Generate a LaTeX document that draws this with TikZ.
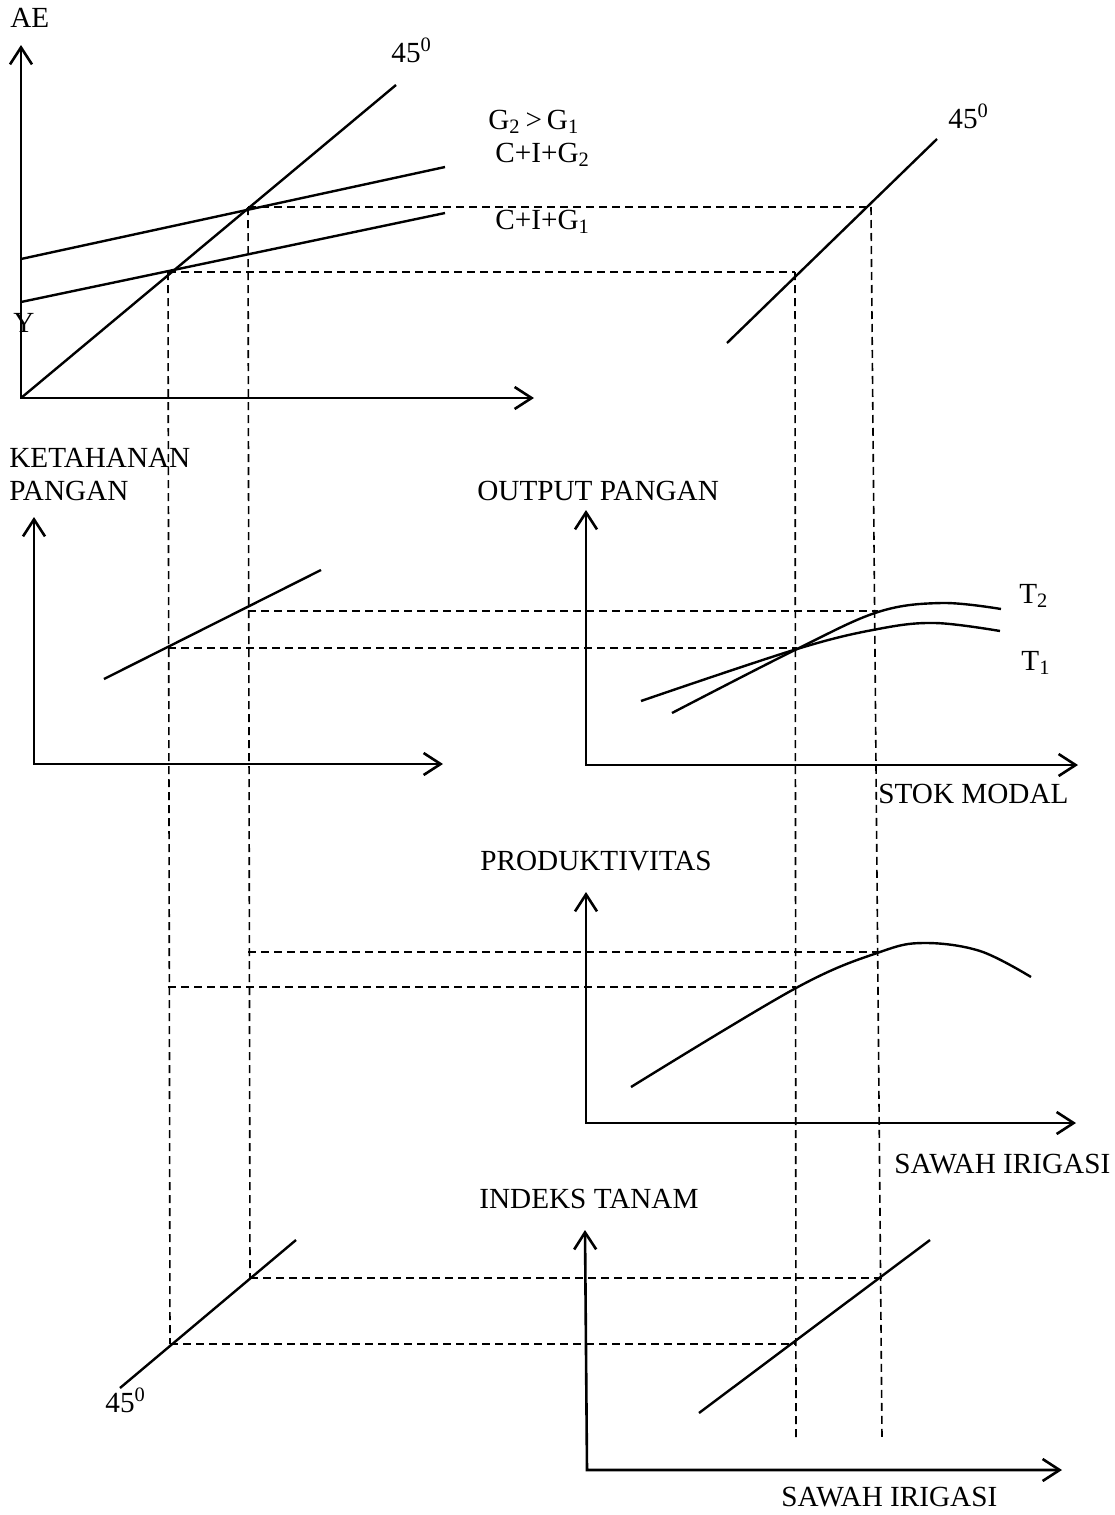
\documentclass[tikz,border=0pt]{standalone}
\usepackage{fontspec}
\setmainfont{Liberation Serif}
\usepackage{tikz}
\usetikzlibrary{arrows.meta}
\usetikzlibrary{positioning}
\tikzset{>={Straight Barb[length=8.5pt,width=11pt]}}
\tikzset{axis/.style = {line width=1.3pt, <->}}
\tikzset{curve/.style = {line width=1.2pt}}
\tikzset{guide/.style = {line width=0.8pt, dash pattern=on 4pt off 2.5pt}}
\tikzset{lbl/.style = {anchor=base west, inner sep=0pt,
                       font=\fontsize{14.6}{17}\selectfont}}

\begin{document}
\begin{tikzpicture}[x=0.5pt, y=-0.5pt]
    \useasboundingbox (0, 0) rectangle (1114, 1515);

    % AE panel
    \draw [axis] (21, 45) -- (21, 398) -- (534, 398);
    \draw [curve] (21, 398) -- (396, 85);
    \draw [curve] (21, 259) -- (445, 167);
    \draw [curve] (21, 302) -- (445, 213);
    \draw [curve] (727, 343) -- (937, 139);
    \node (ae) [lbl] at (10, 27) {AE};
    \node (y) [lbl] at (13, 332) {Y};
    \node (degA) [lbl] at (391, 62) {45\textsuperscript{0}};
    \node (degB) [lbl] at (948, 128) {45\textsuperscript{0}};
    \node (gg) [lbl] at (488, 129) {G\textsubscript{2}\,>\,G\textsubscript{1}};
    \node (cig2) [lbl] at (495, 162) {C+I+G\textsubscript{2}};
    \node (cig1) [lbl] at (495, 229) {C+I+G\textsubscript{1}};

    % ketahanan pangan
    \draw [axis] (34, 517) -- (34, 764) -- (443, 764);
    \draw [curve] (104, 679) -- (321, 570);
    \node (keta) [lbl] at (9, 467) {KETAHANAN};
    \node (pang) [lbl] at (9, 500) {PANGAN};

    % output pangan
    \draw [axis] (586, 510) -- (586, 765) -- (1078, 765);
    \draw [curve] plot [smooth, tension=0.6] coordinates
      {(641, 701) (797, 649) (878, 629) (935, 623) (1000, 631)};
    \draw [curve] plot [smooth, tension=0.6] coordinates
      {(672, 713) (797, 649) (878, 612) (942, 603) (1001, 609)};
    \node (outp) [lbl] at (477, 500) {OUTPUT PANGAN};
    \node (tb) [lbl] at (1019, 603) {T\textsubscript{2}};
    \node (ta) [lbl] at (1021, 670) {T\textsubscript{1}};
    \node (stok) [lbl] at (878, 803) {STOK MODAL};

    % produktivitas
    \draw [axis] (586, 892) -- (586, 1123) -- (1076, 1123);
    \draw [curve] plot [smooth, tension=0.6] coordinates
      {(631, 1087) (796, 988) (880, 952) (924, 943) (980, 951) (1031, 977)};
    \node (prod) [lbl] at (480, 870) {PRODUKTIVITAS};
    \node (sawA) [lbl] at (894, 1173) {SAWAH IRIGASI};

    % indeks tanam
    \draw [axis] (585, 1230) -- (587, 1470) -- (1062, 1470);
    \draw [curve] (699, 1413) -- (930, 1240);
    \draw [curve] (120, 1388) -- (296, 1240);
    \node (idx) [lbl] at (479, 1208) {INDEKS TANAM};
    \node (degC) [lbl] at (105, 1412) {45\textsuperscript{0}};
    \node (sawB) [lbl] at (781, 1506) {SAWAH IRIGASI};

    % guide lines
    \coordinate (a1) at (168, 272);  \coordinate (a2) at (248, 207);
    \coordinate (b1) at (795, 272);  \coordinate (b2) at (871, 207);
    \coordinate (k1) at (168, 648);  \coordinate (k2) at (248, 611);
    \coordinate (t1) at (797, 648);  \coordinate (t2) at (878, 611);
    \coordinate (p1) at (168, 987);  \coordinate (p2) at (248, 952);
    \coordinate (q1) at (796, 987);  \coordinate (q2) at (880, 952);
    \coordinate (r1) at (170, 1344); \coordinate (r2) at (250, 1278);
    \coordinate (s1) at (796, 1344); \coordinate (s2) at (882, 1278);
    \coordinate (e1) at (796, 1438); \coordinate (e2) at (882, 1438);
    \foreach \u/\v in {a1/b1, a2/b2, k1/t1, k2/t2, p1/q1, p2/q2, r1/s1, r2/s2} {
      \draw [guide] (\u) -- (\v);
    }
    \draw [guide] (a1) -- (r1);
    \draw [guide] (a2) -- (r2);
    \draw [guide] (b1) -- (e1);
    \draw [guide] (b2) -- (e2);
\end{tikzpicture}
\end{document}
